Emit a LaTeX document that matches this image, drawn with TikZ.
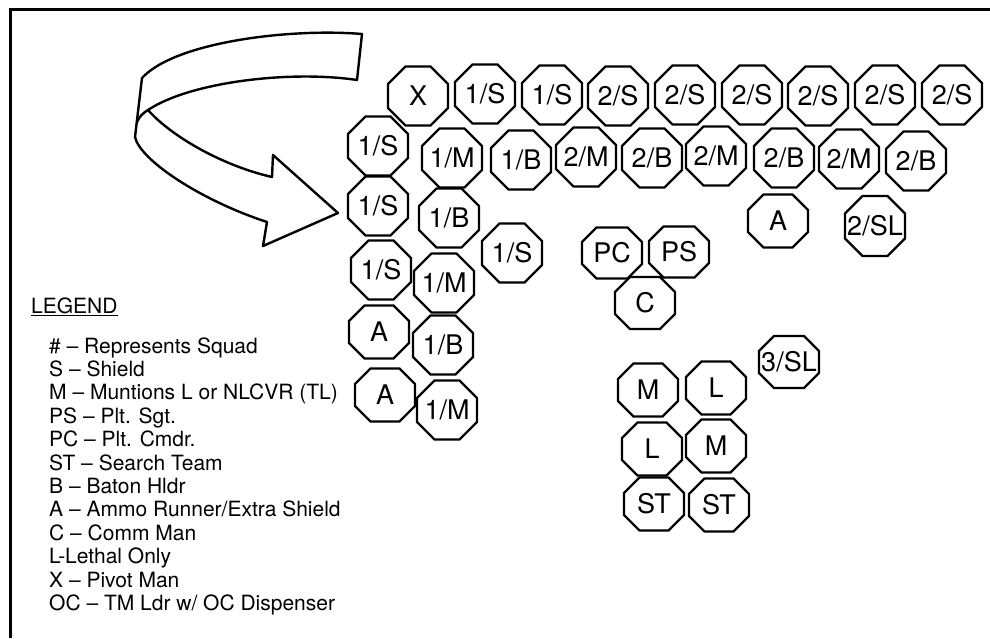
\documentclass[tikz,border=0pt]{standalone}
\usepackage{fontspec}
\setmainfont{TeX Gyre Heros}
\usepackage{tikz}

% octagon: [half height]{name}{x,y}{label}
\newcommand{\octagon}[4][29.5]{%
    \pgfmathsetmacro\octh{#1}%
    \pgfmathsetmacro\octc{min(17.5,#1-11)}%
    \node[octo, minimum height=2*#1pt] (#2) at (#3) {#4};
    \draw[octline, shift={(#2.center)}]
        ({-30+\octc},-\octh) -- ({30-\octc},-\octh) -- (30,{-\octh+\octc}) -- (30,{\octh-\octc})
        -- ({30-\octc},\octh) -- ({-30+\octc},\octh) -- (-30,{\octh-\octc}) -- (-30,{-\octh+\octc}) -- cycle;
}

\begin{document}
\begin{tikzpicture}[
            x=1pt,
            y=-1pt,
            octo/.style={minimum width=60pt, inner sep=0pt,
                font=\fontsize{27}{30}\selectfont},
            octline/.style={line width=2.4pt, line join=miter},
            legtext/.style={anchor=base west, inner sep=0pt,
                font=\fontsize{21}{23}\selectfont}
            ]
            \useasboundingbox (0,0) rectangle (990,638);

            % frame
            \draw[line width=3pt] (10.5,638) -- (10.5,9.5) -- (990,9.5);

            % curved arrow
            \draw[line width=2.4pt, line join=round, fill=white]
                (362,34) .. controls (290,28) and (175,42) .. (142,78)
                -- (135,137) .. controls (140,160) and (200,200) .. (267,222)
                -- (263,246) -- (338,213) -- (273,155) -- (272,177)
                .. controls (220,165) and (170,135) .. (148,110)
                .. controls (190,82) and (290,70) .. (357,80) -- cycle;
            \draw[line width=2.4pt] (148,110) .. controls (143,113) and (139,117) .. (137,122);

            % top row
            \octagon{pivot}{418,96}{X}
            \octagon{t1s1}{485,94}{1/S}
            \octagon{t1s2}{552,95}{1/S}
            \octagon{t2s1}{618,96}{2/S}
            \octagon{t2s2}{685,95}{2/S}
            \octagon{t2s3}{752,95}{2/S}
            \octagon{t2s4}{818,96}{2/S}
            \octagon{t2s5}{885,95}{2/S}
            \octagon{t2s6}{952,95}{2/S}

            % second row
            \octagon{r1s}{378,146}{1/S}
            \octagon{r1m}{452,158}{1/M}
            \octagon{r1b}{521,160}{1/B}
            \octagon{r2m1}{586,157}{2/M}
            \octagon{r2b1}{652,158}{2/B}
            \octagon{r2m2}{716,156}{2/M}
            \octagon{r2b2}{784,158}{2/B}
            \octagon{r2m3}{849,159}{2/M}
            \octagon{r2b3}{916,161}{2/B}

            % left columns
            \octagon{c1s1}{378,206}{1/S}
            \octagon{c2b1}{449,218}{1/B}
            \octagon{c1s2}{381,270}{1/S}
            \octagon{c2m1}{444,283}{1/M}
            \octagon[26.5]{c1a1}{379,332}{A}
            \octagon{c2b2}{443,345}{1/B}
            \octagon[26.5]{c1a2}{385,395}{A}
            \octagon{c2m2}{447,410}{1/M}
            \octagon{mids}{512,253}{1/S}

            % squad 2 rear
            \octagon[26.5]{ammo2}{778,221}{A}
            \octagon[30]{sl2}{875,226}{2/SL}

            % platoon HQ
            \octagon[25.5]{pc}{612,253}{PC}
            \octagon[25.5]{ps}{679,252}{PS}
            \octagon[26]{comm}{645,303}{C}

            % squad 3
            \octagon[26]{sl3}{789,362}{3/SL}
            \octagon[26.5]{m1}{648,390}{M}
            \octagon[26.5]{l1}{716,388}{L}
            \octagon[26.5]{l2}{652,449}{L}
            \octagon[26.5]{m2}{716,446}{M}
            \octagon[26.5]{st1}{654,504}{ST}
            \octagon[26.5]{st2}{719,505}{ST}

            % legend
            \node[legtext] (legend) at (31,313) {\underline{LEGEND}};
            \foreach \txt [count=\i from 0] in {\# – Represents Squad, S – Shield,
                M – Muntions L or NLCVR (TL), PS – Plt. Sgt., PC – Plt. Cmdr.,
                ST – Search Team, B – Baton Hldr, A – Ammo Runner/Extra Shield,
                C – Comm Man, L-Lethal Only, X – Pivot Man, OC – TM Ldr w/ OC Dispenser}
                \node[legtext] (leg\i) at (49,353+23.4*\i) {\txt};
        \end{tikzpicture}
\end{document}
